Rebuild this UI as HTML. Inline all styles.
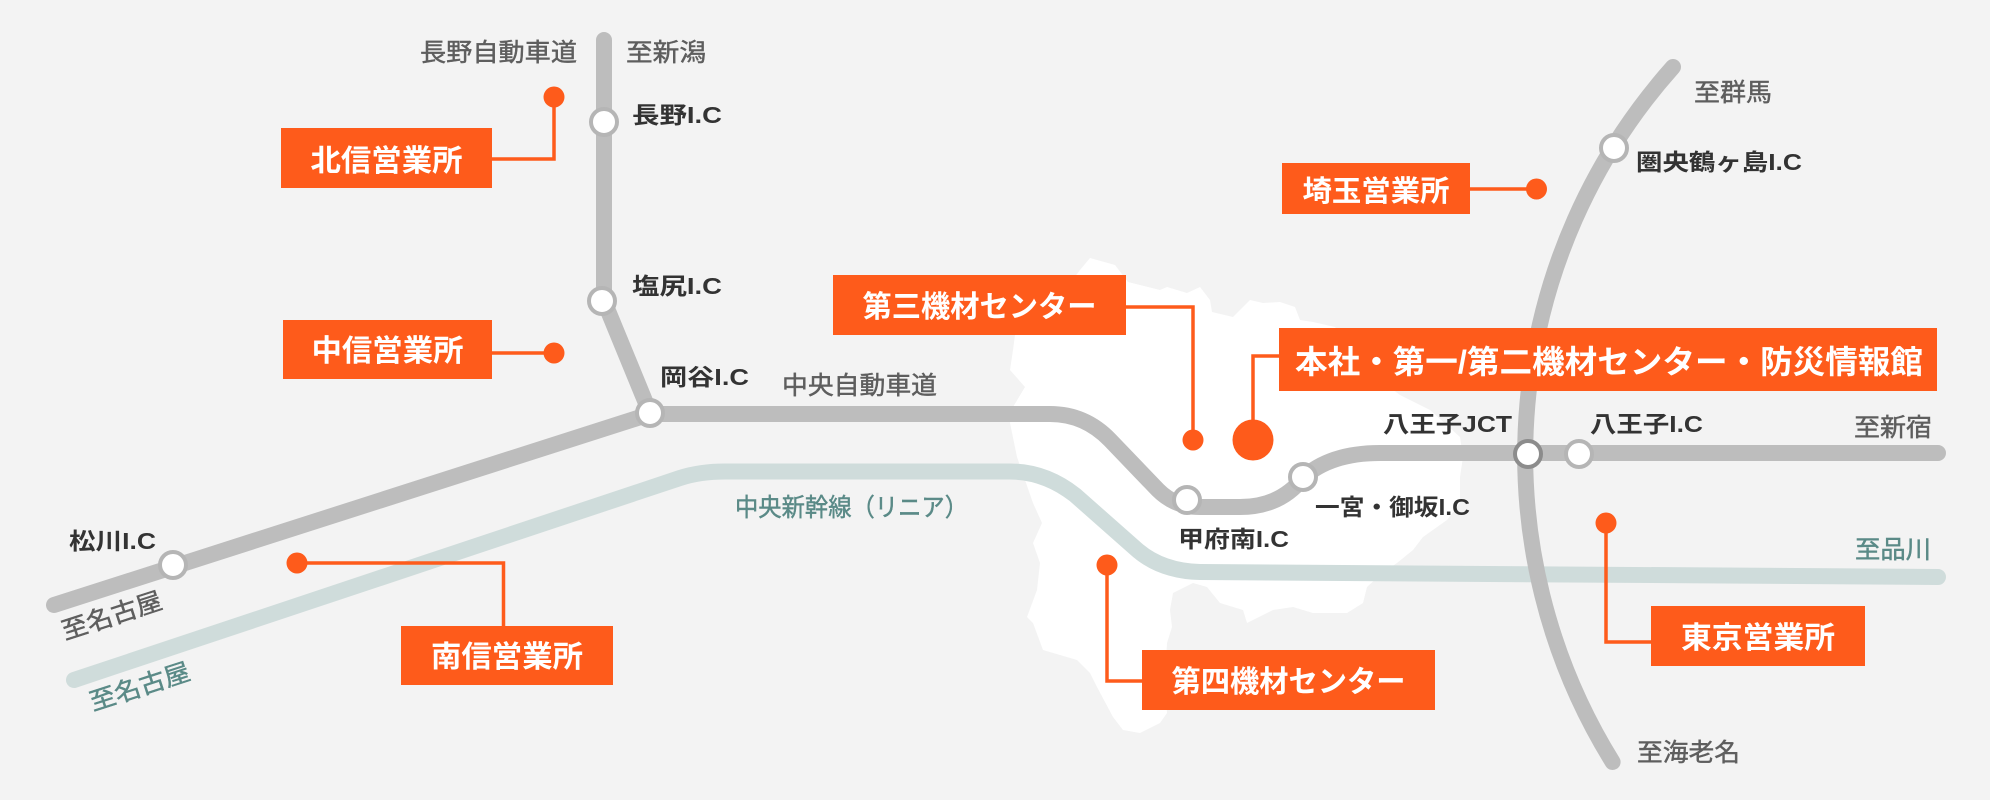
<!DOCTYPE html>
<html><head><meta charset="utf-8"><style>
html,body{margin:0;padding:0;background:#f3f3f3;}
svg{display:block;}
text{font-family:"Liberation Sans","Noto Sans CJK JP",sans-serif;}
.g{fill:#5e5e5e;font-size:25px;stroke:#5e5e5e;stroke-width:0.45px;}
.d{fill:#333;font-size:23px;font-weight:bold;}
.t{fill:#5a8a87;font-size:25px;stroke:#5a8a87;stroke-width:0.45px;}
.w{fill:#fff;font-size:30px;font-weight:bold;}
</style></head><body>
<svg width="1990" height="800" viewBox="0 0 1990 800" xmlns="http://www.w3.org/2000/svg">
<rect x="0" y="0" width="1990" height="800" fill="#f3f3f3"/>
<!-- map -->
<polygon fill="#ffffff" points="1090,258 1115,265 1128,282 1160,290 1167,287 1187,293 1200,287 1210,300 1212,312 1233,317 1250,300 1263,303 1280,302 1295,307 1300,320 1313,322 1335,327 1380,380 1400,395 1430,410 1460,437 1463,457 1460,477 1460,503 1447,520 1423,537 1413,550 1397,563 1380,575 1367,587 1363,603 1347,613 1313,613 1293,607 1273,610 1247,623 1243,610 1220,603 1207,587 1193,583 1173,593 1170,610 1172,627 1167,643 1165,680 1167,713 1160,723 1140,733 1123,730 1113,717 1097,687 1090,673 1077,660 1043,650 1033,623 1027,617 1037,590 1040,563 1033,543 1042,523 1033,503 1017,457 1010,423 1013,407 1025,387 1010,370 1013,350 1015,335 1040,320 1065,290 1080,270"/>
<!-- linear -->
<path d="M74 680 L680 478 Q700 471.5 725 471.5 L1010 471.5 Q1045 471.5 1075 495 L1135 548 Q1160 571 1200 572 L1938 577" fill="none" stroke="#cfdcdb" stroke-width="16" stroke-linecap="round" stroke-linejoin="round"/>
<!-- chuo -->
<path d="M54 605 L650 414 L1050 414 Q1085 414 1110 440 L1158 490 Q1175 507 1200 507 L1240 507 Q1280 507 1303 478 Q1330 453 1380 453 L1938 453" fill="none" stroke="#bdbdbd" stroke-width="16" stroke-linecap="round" stroke-linejoin="round"/>
<!-- nagano -->
<path d="M604 40 L604 301 L650 413" fill="none" stroke="#bdbdbd" stroke-width="16" stroke-linecap="round" stroke-linejoin="round"/>
<!-- ken-o -->
<path d="M1673 67 A583 583 0 0 0 1612.6 762" fill="none" stroke="#bdbdbd" stroke-width="16" stroke-linecap="round"/>
<!-- nodes -->
<g fill="#fff" stroke="#b5b5b5" stroke-width="4">
<circle cx="604" cy="122" r="13"/>
<circle cx="602" cy="301" r="13"/>
<circle cx="650" cy="413" r="13"/>
<circle cx="173" cy="565" r="13"/>
<circle cx="1187" cy="500" r="13"/>
<circle cx="1303" cy="477" r="13"/>
<circle cx="1579" cy="454" r="13"/>
<circle cx="1614" cy="148" r="13"/>
</g>
<circle cx="1528" cy="454" r="13" fill="#fff" stroke="#8c8c8c" stroke-width="4"/>
<!-- connectors -->
<g fill="none" stroke="#fe5b1b" stroke-width="3.5">
<polyline points="492,159 554,159 554,97"/>
<polyline points="492,353 554,353"/>
<polyline points="297,563 503.5,563 503.5,626"/>
<polyline points="1126,307 1193,307 1193,440"/>
<polyline points="1279,356 1253,356 1253,440"/>
<polyline points="1470,189 1536,189"/>
<polyline points="1107,565 1107,681 1142,681"/>
<polyline points="1606,523 1606,642 1651,642"/>
</g>
<g fill="#fe5b1b">
<circle cx="554" cy="97" r="10.5"/>
<circle cx="554" cy="353" r="10.5"/>
<circle cx="297" cy="563" r="10.5"/>
<circle cx="1193" cy="440" r="10.5"/>
<circle cx="1253" cy="440" r="20.5"/>
<circle cx="1536.5" cy="189" r="10.5"/>
<circle cx="1107" cy="565" r="10.5"/>
<circle cx="1606" cy="523" r="10.5"/>
<rect x="281" y="128" width="211" height="60"/>
<rect x="283" y="320" width="209" height="59"/>
<rect x="401" y="626" width="212" height="59"/>
<rect x="833" y="275" width="293" height="60"/>
<rect x="1279" y="328" width="658" height="63"/>
<rect x="1282" y="163" width="188" height="51"/>
<rect x="1142" y="650" width="293" height="60"/>
<rect x="1651" y="606" width="214" height="60"/>
</g>
<!-- box texts -->
<text class="w" x="386.5" y="171" text-anchor="middle" textLength="152" lengthAdjust="spacingAndGlyphs">北信営業所</text>
<text class="w" x="387.5" y="361" text-anchor="middle" textLength="152" lengthAdjust="spacingAndGlyphs">中信営業所</text>
<text class="w" x="507" y="667" text-anchor="middle" textLength="152" lengthAdjust="spacingAndGlyphs">南信営業所</text>
<text class="w" x="979.5" y="317" text-anchor="middle" textLength="234" lengthAdjust="spacingAndGlyphs">第三機材センター</text>
<text class="w" x="1295" y="373" style="font-size:32px" textLength="628" lengthAdjust="spacingAndGlyphs">本社・第一/第二機材センター・防災情報館</text>
<text class="w" x="1376" y="201" text-anchor="middle" style="font-size:29px" textLength="147" lengthAdjust="spacingAndGlyphs">埼玉営業所</text>
<text class="w" x="1288.5" y="692" text-anchor="middle" textLength="234" lengthAdjust="spacingAndGlyphs">第四機材センター</text>
<text class="w" x="1758" y="648" text-anchor="middle" textLength="154" lengthAdjust="spacingAndGlyphs">東京営業所</text>
<!-- gray labels -->
<text class="g" x="420" y="61" textLength="157" lengthAdjust="spacingAndGlyphs">長野自動車道</text>
<text class="g" x="626" y="61" textLength="80" lengthAdjust="spacingAndGlyphs">至新潟</text>
<text class="g" x="782" y="394" textLength="155" lengthAdjust="spacingAndGlyphs">中央自動車道</text>
<text class="g" x="1854" y="436" textLength="78" lengthAdjust="spacingAndGlyphs">至新宿</text>
<text class="g" x="1637" y="761" textLength="103" lengthAdjust="spacingAndGlyphs">至海老名</text>
<text class="g" x="1694" y="101" textLength="78" lengthAdjust="spacingAndGlyphs">至群馬</text>
<text class="g" x="65" y="640" transform="rotate(-18 65 640)" textLength="104" lengthAdjust="spacingAndGlyphs">至名古屋</text>
<!-- teal labels -->
<text class="t" x="735" y="516" textLength="233" lengthAdjust="spacingAndGlyphs">中央新幹線（リニア）</text>
<text class="t" x="1855" y="558" textLength="76" lengthAdjust="spacingAndGlyphs">至品川</text>
<text class="t" x="93" y="711" transform="rotate(-18 93 711)" textLength="104" lengthAdjust="spacingAndGlyphs">至名古屋</text>
<!-- IC labels -->
<text class="d" x="632" y="123" textLength="90" lengthAdjust="spacingAndGlyphs">長野I.C</text>
<text class="d" x="632" y="294" textLength="90" lengthAdjust="spacingAndGlyphs">塩尻I.C</text>
<text class="d" x="660" y="385" textLength="89" lengthAdjust="spacingAndGlyphs">岡谷I.C</text>
<text class="d" x="69" y="549" textLength="87" lengthAdjust="spacingAndGlyphs">松川I.C</text>
<text class="d" x="1178" y="547" textLength="111" lengthAdjust="spacingAndGlyphs">甲府南I.C</text>
<text class="d" x="1315" y="515" textLength="155" lengthAdjust="spacingAndGlyphs">一宮・御坂I.C</text>
<text class="d" x="1383" y="432" textLength="129" lengthAdjust="spacingAndGlyphs">八王子JCT</text>
<text class="d" x="1590" y="432" textLength="113" lengthAdjust="spacingAndGlyphs">八王子I.C</text>
<text class="d" x="1636" y="170" textLength="166" lengthAdjust="spacingAndGlyphs">圏央鶴ヶ島I.C</text>
</svg>
</body></html>
